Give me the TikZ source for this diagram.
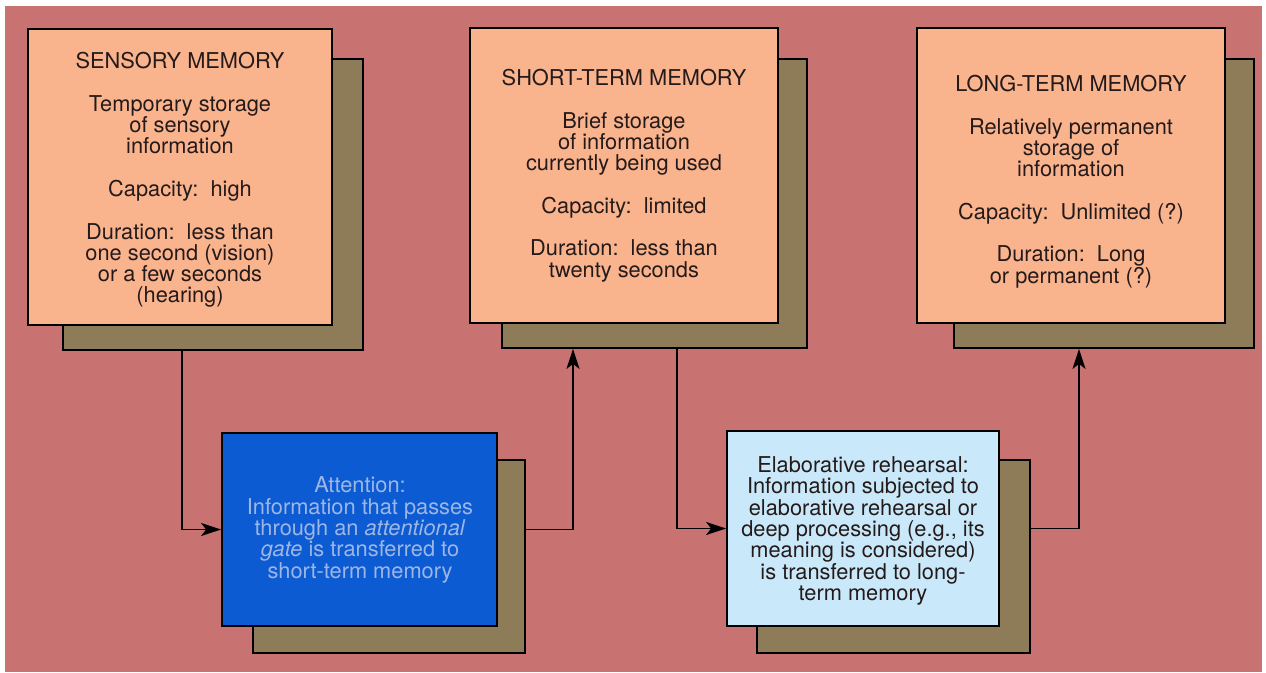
\documentclass[tikz,border=0pt]{standalone}
\usepackage{fontspec}
\setmainfont{TeX Gyre Heros}
\usetikzlibrary{arrows.meta}
\definecolor{bg}{HTML}{C97272}
\definecolor{peach}{HTML}{F9B48E}
\definecolor{shadowc}{HTML}{8E7B57}
\definecolor{attblue}{HTML}{0C5BD2}
\definecolor{atttext}{HTML}{9DB6E6}
\definecolor{elablue}{HTML}{C9E9FA}
\definecolor{ink}{HTML}{251A1A}
\begin{document}
\begin{tikzpicture}[x=1pt,y=-1pt,
  box/.style={draw=black, line width=1.8pt, inner sep=0pt},
  shadowbox/.style={box, fill=shadowc},
  frontbox/.style={box, fill=peach},
  txt/.style={align=center, text=ink, font=\fontsize{21.8}{21.3}\selectfont, inner sep=0pt},
  conn/.style={draw=black, line width=1.8pt},
  tip/.style={-{Stealth[length=20pt,width=13pt,inset=5pt]}},
]
\useasboundingbox (0,0) rectangle (1266,672);
\fill[white] (0,0) rectangle (1266,672);
\fill[bg] (5,6) rectangle (1262,672);

% top row shadows
\node[shadowbox, minimum width=300pt, minimum height=291pt] (smS) at (213,204.5) {};
\node[shadowbox, minimum width=305pt, minimum height=289pt] (stmS) at (654.5,203.5) {};
\node[shadowbox, minimum width=300pt, minimum height=289pt] (ltmS) at (1104,203.5) {};
% top row fronts
\node[frontbox, minimum width=304pt, minimum height=296pt] (sm) at (180,177) {};
\node[frontbox, minimum width=308pt, minimum height=295pt] (stm) at (624,175.5) {};
\node[frontbox, minimum width=308pt, minimum height=295pt] (ltm) at (1071,175.5) {};

% bottom row
\node[shadowbox, minimum width=272pt, minimum height=193pt] (attS) at (389,556.5) {};
\node[box, fill=attblue, minimum width=275pt, minimum height=193pt] (att) at (359.5,529.5) {};
\node[shadowbox, minimum width=273pt, minimum height=193pt] (elaS) at (893.5,556.5) {};
\node[box, fill=elablue, minimum width=272pt, minimum height=195pt] (ela) at (863,528.5) {};

% texts
\node[txt] (smT) at (180,180) {SENSORY MEMORY\\[21.3pt]
Temporary storage\\of sensory\\information\\[21.3pt]
Capacity:\ \ high\\[21.3pt]
Duration:\ \ less than\\one second (vision)\\or a few seconds\\(hearing)};
\node[txt] (stmT) at (624,175.5) {SHORT-TERM MEMORY\\[21.3pt]
Brief storage\\of information\\currently being used\\[21.3pt]
Capacity:\ \ limited\\[21.3pt]
Duration:\ \ less than\\twenty seconds};
\node[txt] (ltmT) at (1071,181.5) {LONG-TERM MEMORY\\[21.3pt]
Relatively permanent\\storage of\\information\\[21.3pt]
Capacity:\ \ Unlimited (?)\\[21.3pt]
Duration:\ \ Long\\or permanent (?)};
\node[txt, text=atttext] (attT) at (360,530) {Attention:\\Information that passes\\through an \textit{attentional}\\\textit{gate} is transferred to\\short-term memory};
\node[txt] (elaT) at (863,531) {Elaborative rehearsal:\\Information subjected to\\elaborative rehearsal or\\deep processing (e.g., its\\meaning is considered)\\is transferred to long-\\term memory};

% connector guide coordinates
\coordinate (c1) at (182,0);
\coordinate (c2) at (573,0);
\coordinate (c3) at (677,0);
\coordinate (c4) at (1079,0);

\draw[conn, tip] (smS.south -| c1) |- (att.west);
\draw[conn, tip] (attS.east |- att.west) -| (stmS.south -| c2);
\draw[conn, tip] (stmS.south -| c3) |- (ela.west);
\draw[conn, tip] (elaS.east |- ela.west) -| (ltmS.south -| c4);
\end{tikzpicture}
\end{document}
